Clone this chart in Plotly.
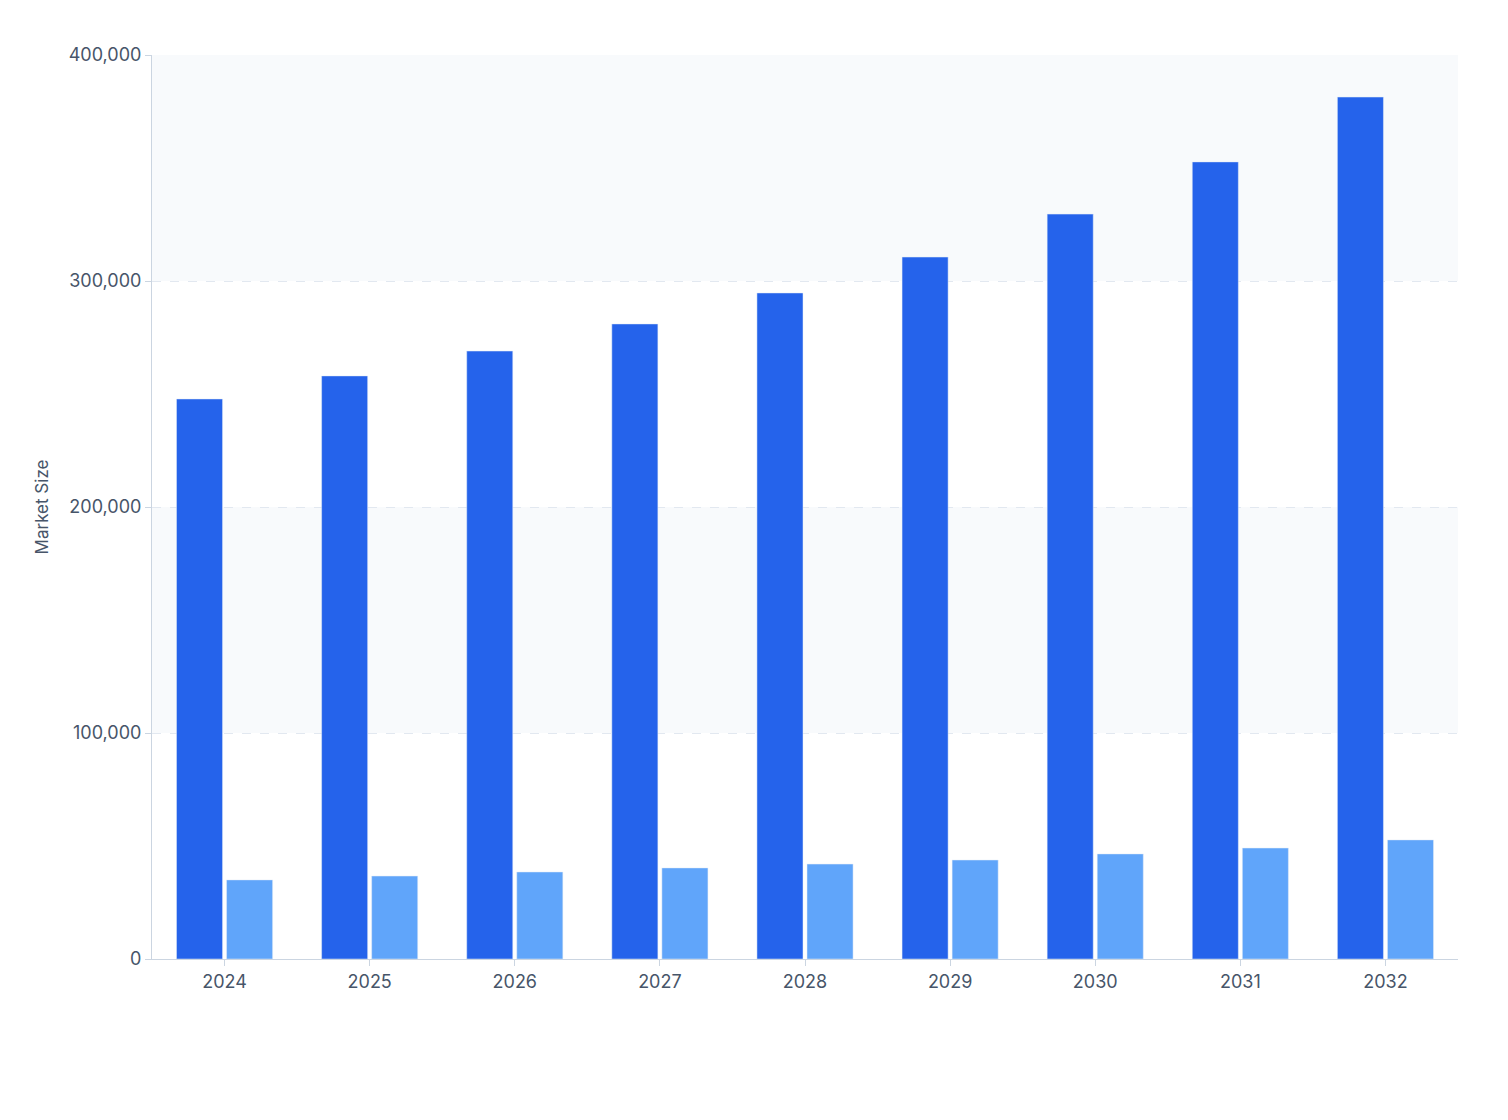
import plotly.graph_objects as go

years = ["2024","2025","2026","2027","2028","2029","2030","2031","2032"]
total = [247800, 258000, 269000, 281000, 294700, 310600, 329600, 352700, 381400]
segment = [35000, 36700, 38500, 40300, 42000, 43800, 46500, 49100, 52700]

fig = go.Figure()
fig.add_bar(x=years, y=total, marker_color="#2563eb", name="Total")
fig.add_bar(x=years, y=segment, marker_color="#60a5fa", name="Segment")

for y0, y1 in [(100000, 200000), (300000, 400000)]:
    fig.add_shape(type="rect", xref="paper", x0=0, x1=1, y0=y0, y1=y1,
                  fillcolor="#f8fafc", line_width=0, layer="below")

fig.update_layout(
    width=1508, height=1120, plot_bgcolor="white", paper_bgcolor="white",
    margin=dict(l=144, r=58, t=47, b=169),
    barmode="group", bargap=0.31, bargroupgap=0.08, showlegend=False,
    font=dict(family="Inter", color="#475569", size=18),
)
fig.update_xaxes(showline=True, linecolor="#cbd5e1", ticks="outside", ticklen=6,
                 tickcolor="#cbd5e1", showgrid=False, tickfont=dict(size=18))
fig.update_yaxes(range=[0, 400000], dtick=100000, tickformat=",", showline=True,
                 linecolor="#cbd5e1", ticks="outside", ticklen=6, tickcolor="#cbd5e1",
                 gridcolor="#e2e8f0", griddash="dash", zeroline=False,
                 title=dict(text="Market Size", font=dict(size=17)), tickfont=dict(size=18))
fig.write_html("out.html")
